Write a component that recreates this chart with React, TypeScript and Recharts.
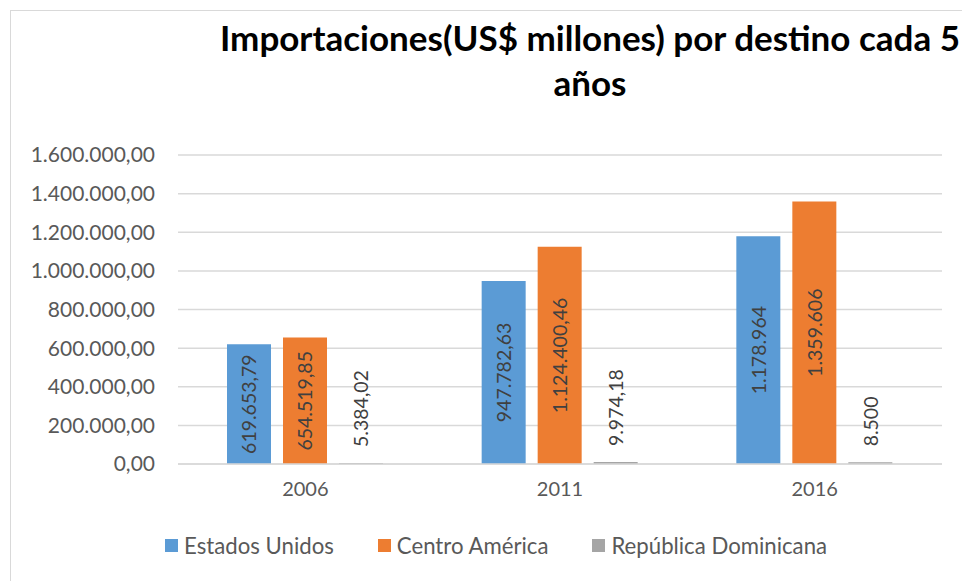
import React from "react";
import {
  BarChart,
  Bar,
  XAxis,
  YAxis,
  CartesianGrid,
  Legend,
  LabelList,
} from "recharts";

const years = ["2006", "2011", "2016"];
const estadosUnidos = [619653.79, 947782.63, 1178964];
const centroAmerica = [654519.85, 1124400.46, 1359606];
const republicaDominicana = [5384.02, 9974.18, 8500];
const estadosUnidosLabels = ["619.653,79", "947.782,63", "1.178.964"];
const centroAmericaLabels = ["654.519,85", "1.124.400,46", "1.359.606"];
const republicaDominicanaLabels = ["5.384,02", "9.974,18", "8.500"];
const yTicks = [0, 200000, 400000, 600000, 800000, 1000000, 1200000, 1400000, 1600000];

const series = [
  { key: "eu", name: "Estados Unidos", color: "#5b9bd5" },
  { key: "ca", name: "Centro América", color: "#ed7d31" },
  { key: "rd", name: "República Dominicana", color: "#a5a5a5" },
];

const data = years.map((year, i) => ({
  year,
  eu: estadosUnidos[i],
  ca: centroAmerica[i],
  rd: republicaDominicana[i],
  euLabel: estadosUnidosLabels[i],
  caLabel: centroAmericaLabels[i],
  rdLabel: republicaDominicanaLabels[i],
}));

const FONT = "Lato, 'DejaVu Sans', sans-serif";

// "1.600.000,00" style
const formatTick = (v: number) => {
  const int = Math.round(v)
    .toString()
    .replace(/\B(?=(\d{3})+(?!\d))/g, ".");
  return `${int},00`;
};

const BarValueLabel = (props: any) => {
  const { x, y, width, height, value } = props;
  const cx = Number(x) + Number(width) / 2;
  const textLen = String(value).length * 10.8;
  const inside = Number(height) > textLen + 10;
  if (inside) {
    const cy = Number(y) + Number(height) / 2;
    return (
      <text
        x={cx}
        y={cy}
        transform={`rotate(-90 ${cx} ${cy})`}
        textAnchor="middle"
        dominantBaseline="central"
        fill="#404040"
        fontSize={19.5}
        fontFamily={FONT}
      >
        {value}
      </text>
    );
  }
  const sy = Number(y) - 16;
  return (
    <text
      x={cx}
      y={sy}
      transform={`rotate(-90 ${cx} ${sy})`}
      textAnchor="start"
      dominantBaseline="central"
      fill="#404040"
      fontSize={19.5}
      fontFamily={FONT}
    >
      {value}
    </text>
  );
};

const renderLegend = () => (
  <div
    style={{
      display: "flex",
      justifyContent: "flex-start",
      gap: 44,
      fontFamily: FONT,
      fontSize: 22.2,
      color: "#595959",
      paddingLeft: 165,
    }}
  >
    {series.map((s) => (
      <div key={s.key} style={{ display: "flex", alignItems: "center" }}>
        <span
          style={{
            display: "inline-block",
            width: 13,
            height: 13,
            background: s.color,
            marginRight: 6,
          }}
        />
        <span>{s.name}</span>
      </div>
    ))}
  </div>
);

export default function App() {
  return (
    <div
      style={{
        position: "absolute",
        left: 0,
        top: 0,
        width: 962,
        height: 581,
        background: "#ffffff",
        overflow: "hidden",
      }}
    >
      <div
        style={{
          position: "absolute",
          left: 10,
          top: 10,
          width: 980,
          height: 600,
          border: "1px solid #d9d9d9",
        }}
      />
      <div
        style={{
          position: "absolute",
          left: 180,
          top: 15,
          width: 820,
          textAlign: "center",
          fontFamily: FONT,
          fontWeight: 700,
          fontSize: 35,
          lineHeight: "45px",
          color: "#000000",
        }}
      >
        Importaciones(US$ millones) por destino cada 5
        <br />
        años
      </div>
      <div style={{ position: "absolute", left: 0, top: 0 }}>
        <BarChart
          width={962}
          height={581}
          data={data}
          margin={{ top: 155, right: 20, left: 0, bottom: 87 }}
          barCategoryGap={49}
          barGap={12}
        >
          <CartesianGrid vertical={false} stroke="#d9d9d9" strokeWidth={1.5} />
          <XAxis
            dataKey="year"
            axisLine={{ stroke: "#d9d9d9", strokeWidth: 1.5 }}
            tickLine={false}
            tickMargin={12}
            height={30}
            tick={{ fill: "#595959", fontSize: 20, fontFamily: FONT }}
          />
          <YAxis
            domain={[0, 1600000]}
            ticks={yTicks}
            width={178}
            axisLine={false}
            tickLine={false}
            tickMargin={17}
            tickFormatter={formatTick}
            tick={{ fill: "#595959", fontSize: 21, fontFamily: FONT }}
          />
          <Legend
            layout="horizontal"
            verticalAlign="middle"
            align="center"
            wrapperStyle={{ top: 532, left: 0, width: 962 }}
            content={renderLegend}
          />
          {series.map((s) => (
            <Bar
              key={s.key}
              dataKey={s.key}
              name={s.name}
              fill={s.color}
              isAnimationActive={false}
            >
              <LabelList dataKey={`${s.key}Label`} content={BarValueLabel} />
            </Bar>
          ))}
        </BarChart>
      </div>
    </div>
  );
}
